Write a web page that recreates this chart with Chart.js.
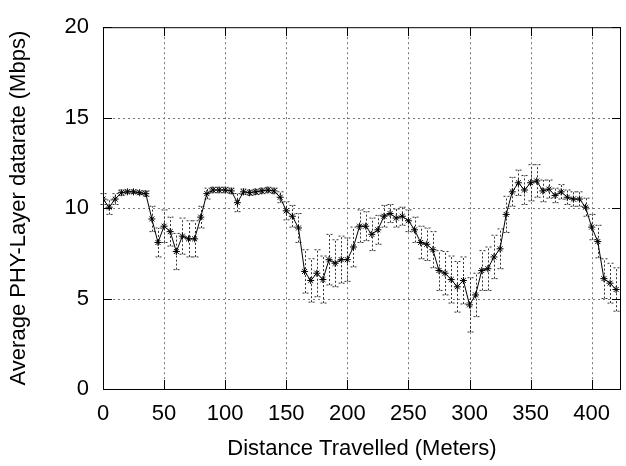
<!DOCTYPE html>
<html>
<head>
<meta charset="utf-8">
<script src="https://cdn.jsdelivr.net/npm/chart.js@4"></script>
<style>
  body { margin: 0; background: #fff; }
  #wrap { width: 626px; height: 466px; }
</style>
</head>
<body>
<div id="wrap"><canvas id="myChart" width="626" height="466"></canvas></div>
<script>
// distance travelled (m)
const dist = [
  0, 5, 10, 15, 20, 25, 30, 35, 40, 45, 50, 55, 60, 65, 70, 75, 80, 85, 90, 95,
  100, 105, 110, 115, 120, 125, 130, 135, 140, 145, 150, 155, 160, 165, 170, 175, 180, 185, 190, 195,
  200, 205, 210, 215, 220, 225, 230, 235, 240, 245, 250, 255, 260, 265, 270, 275, 280, 285, 290, 295,
  300, 305, 310, 315, 320, 325, 330, 335, 340, 345, 350, 355, 360, 365, 370, 375, 380, 385, 390, 395,
  400, 405, 410, 415, 420
];
// average PHY datarate (Mbps)
const rate = [
  10.5, 10.05, 10.5, 10.85, 10.9, 10.9, 10.85, 10.8, 9.4, 8.1, 9.0, 8.7, 7.6, 8.45, 8.3, 8.3, 9.5, 10.8, 11.0, 11.0,
  11.0, 10.95, 10.3, 10.9, 10.85, 10.9, 10.95, 11.0, 10.95, 10.6, 9.85, 9.55, 8.9, 6.5, 6.0, 6.4, 6.05, 7.15, 6.95, 7.15,
  7.15, 7.85, 9.0, 9.0, 8.55, 8.8, 9.55, 9.7, 9.45, 9.55, 9.3, 8.8, 8.1, 8.0, 7.7, 6.55, 6.4, 6.05, 5.65, 6.0,
  4.65, 5.2, 6.55, 6.65, 7.3, 7.75, 9.65, 10.9, 11.4, 11.0, 11.4, 11.5, 10.95, 11.05, 10.7, 10.9, 10.6, 10.5, 10.5, 10.05,
  8.95, 8.15, 6.1, 5.85, 5.5
];
// error bar half-widths
const err = [
  0.3, 0.4, 0.3, 0.15, 0.1, 0.1, 0.1, 0.15, 0.7, 0.8, 0.9, 0.8, 1.0, 1.0, 1.0, 1.0, 0.6, 0.3, 0.15, 0.15,
  0.15, 0.15, 0.5, 0.15, 0.15, 0.15, 0.15, 0.15, 0.15, 0.3, 0.5, 0.6, 0.8, 1.2, 1.2, 1.3, 1.3, 1.4, 1.3, 1.3,
  1.2, 1.1, 0.9, 0.8, 0.9, 0.8, 0.6, 0.5, 0.5, 0.5, 0.6, 0.7, 0.9, 0.9, 1.0, 1.1, 1.2, 1.3, 1.4, 1.3,
  1.5, 1.2, 1.1, 1.2, 1.2, 1.1, 1.0, 0.8, 0.7, 0.8, 1.0, 0.9, 0.6, 0.5, 0.4, 0.4, 0.4, 0.4, 0.4, 0.5,
  0.7, 0.9, 1.1, 1.1, 1.2
];
const xTicks = [0, 50, 100, 150, 200, 250, 300, 350, 400];
const yTicks = [0, 5, 10, 15, 20];

const points = dist.map((d, i) => ({ x: d, y: rate[i] }));

// dotted grid + error bars, under the line
const underlay = {
  id: 'underlay',
  beforeDatasetsDraw(chart) {
    const { ctx, chartArea: a, scales: { x, y } } = chart;
    ctx.save();
    ctx.lineWidth = 1;
    ctx.strokeStyle = '#777';
    ctx.setLineDash([2, 3]);
    ctx.beginPath();
    xTicks.forEach(v => {
      const px = Math.round(x.getPixelForValue(v)) + 0.5;
      if (px <= a.left + 1) return;
      ctx.moveTo(px, a.top); ctx.lineTo(px, a.bottom);
    });
    yTicks.forEach(v => {
      const py = Math.round(y.getPixelForValue(v)) + 0.5;
      if (py <= a.top + 1 || py >= a.bottom - 1) return;
      ctx.moveTo(a.left, py); ctx.lineTo(a.right, py);
    });
    ctx.stroke();

    ctx.strokeStyle = '#333';
    ctx.setLineDash([2, 2]);
    ctx.beginPath();
    dist.forEach((d, i) => {
      const px = Math.round(x.getPixelForValue(d)) + 0.5;
      const lo = y.getPixelForValue(rate[i] - err[i]);
      const hi = y.getPixelForValue(rate[i] + err[i]);
      ctx.moveTo(px, lo); ctx.lineTo(px, hi);
      ctx.moveTo(px - 3, lo); ctx.lineTo(px + 3, lo);
      ctx.moveTo(px - 3, hi); ctx.lineTo(px + 3, hi);
    });
    ctx.stroke();
    ctx.restore();
  },
  afterDraw(chart) {
    // border box and inward tick marks
    const { ctx, chartArea: a, scales: { x, y } } = chart;
    ctx.save();
    ctx.strokeStyle = '#000';
    ctx.lineWidth = 1;
    ctx.strokeRect(a.left + 0.5, a.top + 0.5, a.right - a.left - 1, a.bottom - a.top);
    ctx.beginPath();
    xTicks.forEach(v => {
      const px = Math.round(x.getPixelForValue(v)) + 0.5;
      ctx.moveTo(px, a.bottom); ctx.lineTo(px, a.bottom - 9);
      ctx.moveTo(px, a.top); ctx.lineTo(px, a.top + 9);
    });
    yTicks.forEach(v => {
      const py = Math.round(y.getPixelForValue(v)) + 0.5;
      ctx.moveTo(a.left, py); ctx.lineTo(a.left + 9, py);
      ctx.moveTo(a.right, py); ctx.lineTo(a.right - 9, py);
    });
    ctx.stroke();
    ctx.restore();
  }
};

const font = { family: '"Liberation Sans", Arial, sans-serif', size: 22, lineHeight: 1.2 };

new Chart(document.getElementById('myChart'), {
  type: 'scatter',
  data: {
    datasets: [{
      data: points,
      showLine: true,
      borderColor: '#000',
      borderWidth: 1,
      pointStyle: 'star',
      pointRadius: 3.5,
      pointBorderColor: '#000',
      pointBorderWidth: 1,
      tension: 0
    }]
  },
  options: {
    responsive: false,
    animation: false,
    layout: { padding: { top: 20, right: 1, bottom: 0, left: 0 } },
    plugins: { legend: { display: false }, tooltip: { enabled: false } },
    scales: {
      x: {
        type: 'linear',
        min: 0,
        max: 424,
        grid: { display: false, drawTicks: false },
        border: { display: false },
        ticks: { stepSize: 50, includeBounds: false, padding: 12, color: '#000', font: font, maxRotation: 0 },
        title: { display: true, text: 'Distance Travelled (Meters)', color: '#000', font: font, padding: { top: 0, bottom: 4 } },
        afterFit(s) { s.height = 77; }
      },
      y: {
        min: 0,
        max: 20,
        grid: { display: false, drawTicks: false },
        border: { display: false },
        ticks: { stepSize: 5, padding: 14, color: '#000', font: font },
        title: { display: true, text: 'Average PHY-Layer datarate (Mbps)', color: '#000', font: font, padding: { top: 6, bottom: 0 } },
        afterFit(s) { s.width = 103; }
      }
    }
  },
  plugins: [underlay]
});
</script>
</body>
</html>
